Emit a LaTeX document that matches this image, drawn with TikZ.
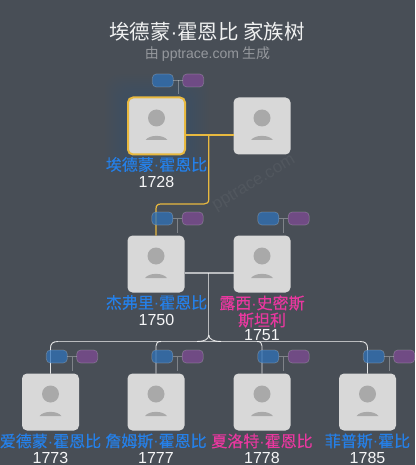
\documentclass[tikz,border=0pt]{standalone}
\usepackage{fontspec}
\setmainfont{Liberation Sans}
\newfontfamily\cjk{Noto Sans CJK SC}
\newfontfamily\cjkb[FakeBold=0.3]{Noto Sans CJK SC}
\usetikzlibrary{calc}
\definecolor{bgc}{HTML}{484E56}
\definecolor{boxc}{HTML}{D8D8D8}
\definecolor{iconc}{HTML}{A9A9A9}
\definecolor{gold}{HTML}{E8B93F}
\definecolor{namb}{HTML}{2580E8}
\definecolor{namp}{HTML}{E8389F}
\definecolor{pillb}{HTML}{2F72B8}
\definecolor{pillp}{HTML}{7E4A94}
\newcommand{\dd}{{\fontspec{Liberation Sans}·}}
\tikzset{
 x=1pt,y=-1pt,
 card/.style={draw=none,fill=boxc,rounded corners=5pt,minimum width=57pt,minimum height=57pt,inner sep=0pt,outer sep=0pt},
 pill/.style={draw=white,draw opacity=.2,line width=.7pt,rounded corners=4pt,minimum width=21pt,minimum height=13pt,inner sep=0pt,outer sep=0pt,fill opacity=.75},
 pb/.style={pill,fill=pillb},
 pp/.style={pill,fill=pillp},
 stem/.style={draw=white,draw opacity=.3,line width=.8pt},
 goldl/.style={draw=gold,line width=1.2pt},
 greyl/.style={draw=white,draw opacity=.62,line width=1.1pt},
 whitel/.style={draw=white,draw opacity=.85,line width=.9pt},
 nm/.style={font=\cjkb\fontsize{16}{18}\selectfont,inner sep=0pt,align=center},
 yr/.style={font=\fontsize{16}{18}\selectfont,text=white!95!bgc,inner sep=0pt},
}
\newcommand{\person}[1]{%
 \fill[iconc] ($(#1)+(0,-8)$) circle[radius=8.5pt];
 \fill[iconc] ($(#1)+(-11,14)$) .. controls ($(#1)+(-7,8.5)$) and ($(#1)+(7,8.5)$) .. ($(#1)+(11,14)$) -- cycle;
}
\begin{document}
\begin{tikzpicture}
\useasboundingbox (0,0) rectangle (415,465);
\fill[bgc] (0,0) rectangle (415,465);
% glow of the focused card
\foreach \g in {22,20,18,16,14,12,10,8,6,4,2}{
  \fill[pillb,opacity=.018,rounded corners=14pt] (127-\g,97-\g) rectangle (186+\g,155+\g);
}
% watermark
\node[rotate=31,text=white,opacity=.05,font=\fontsize{17}{19}\selectfont,inner sep=0pt] (wm) at (254,183.5) {pptrace.com};
% title
\node[text=white!92!bgc,inner sep=0pt,font=\cjk\fontsize{20.5}{24}\selectfont] (title) at (207,32) {埃德蒙\dd 霍恩比 家族树};
\node[text=white!42!bgc,inner sep=0pt,font=\cjk\fontsize{14}{16}\selectfont] (sub) at (207.5,54.5) {由 {\fontspec{Liberation Sans}pptrace.com} 生成};
% cards coordinates
\coordinate (c1) at (156.5,126);
\coordinate (c2) at (262,126);
\coordinate (c3) at (156,264);
\coordinate (c4) at (262,264);
\coordinate (c5) at (50.5,402);
\coordinate (c6) at (156,402);
\coordinate (c7) at (262,402);
\coordinate (c8) at (367.5,402);
\coordinate (j1) at (208.8,135);
\coordinate (j2) at (208.8,273);
% card nodes
\node[card,draw=gold,line width=2pt] (a) at (c1) {};
\node[card] (b) at (c2) {};
\node[card] (d) at (c3) {};
\node[card] (e) at (c4) {};
\node[card] (f) at (c5) {};
\node[card] (g) at (c6) {};
\node[card] (h) at (c7) {};
\node[card] (i) at (c8) {};
% connectors
\draw[goldl] (a.east |- j1) -- (b.west |- j1);
\draw[goldl] (j1) -- (208.8,199) .. controls (208.8,202.5) and (207,204) .. (204,204) -- (161,204) .. controls (157.5,204) and (156,205.5) .. (156,209) -- (d.north);
\draw[greyl] (d.east |- j2) -- (e.west |- j2);
\draw[greyl] (j2) -- (208.8,335);
\draw[greyl] (58,341.5) -- (360,341.5);
\draw[whitel] (208.8,335) .. controls (208.8,339.5) and (204,341.5) .. (197,341.5);
\draw[whitel] (208.8,335) .. controls (208.8,339.5) and (214,341.5) .. (221,341.5);
\draw[whitel] (58,341.5) .. controls (53,341.5) and (50.5,343.5) .. (50.5,348) -- (f.north);
\draw[whitel] (161,341.5) .. controls (157.5,341.5) and (156,343) .. (156,346) -- (g.north);
\draw[whitel] (257,341.5) .. controls (260.5,341.5) and (262,343) .. (262,346) -- (h.north);
\draw[whitel] (360,341.5) .. controls (365,341.5) and (367.5,343.5) .. (367.5,348) -- (i.north);
% pills and their stems
\foreach \n in {a,d,e,f,g,h,i}{
  \coordinate (s\n) at ($(\n.north)+(21.5,-17)$);
  \coordinate (t\n) at ($(\n.north)+(21.5,-3)$);
  \draw[stem] (s\n) -- (t\n);
  \node[pb,anchor=east] (\n b) at ($(s\n)+(-4.7,0)$) {};
  \node[pp,anchor=west] (\n p) at ($(s\n)+(4.7,0)$) {};
  \draw[stem] (\n b.east) -- (\n p.west);
}
% icons
\person{c1}\person{c2}\person{c3}\person{c4}\person{c5}\person{c6}\person{c7}\person{c8}
% labels
\node[nm,text=namb] (la) at (156.5,164.5) {埃德蒙\dd 霍恩比};
\node[yr] (ya) at (156.5,181.5) {1728};
\node[nm,text=namb] (ld) at (156.5,302.5) {杰弗里\dd 霍恩比};
\node[yr] (yd) at (156.5,319.5) {1750};
\node[nm,text=namp,text width=100pt] (le) at (262,311.5) {露西\dd 史密斯\\[-1pt]斯坦利};
\node[yr] (ye) at (262,335.5) {1751};
\node[nm,text=namb] (lf) at (50.5,441) {爱德蒙\dd 霍恩比};
\node[yr] (yf) at (50.5,457.5) {1773};
\node[nm,text=namb] (lg) at (156,441) {詹姆斯\dd 霍恩比};
\node[yr] (yg) at (156,457.5) {1777};
\node[nm,text=namp] (lh) at (262,441) {夏洛特\dd 霍恩比};
\node[yr] (yh) at (262,457.5) {1778};
\node[nm,text=namb] (li) at (367.5,441) {菲普斯\dd 霍比};
\node[yr] (yi) at (367.5,457.5) {1785};
\end{tikzpicture}
\end{document}
